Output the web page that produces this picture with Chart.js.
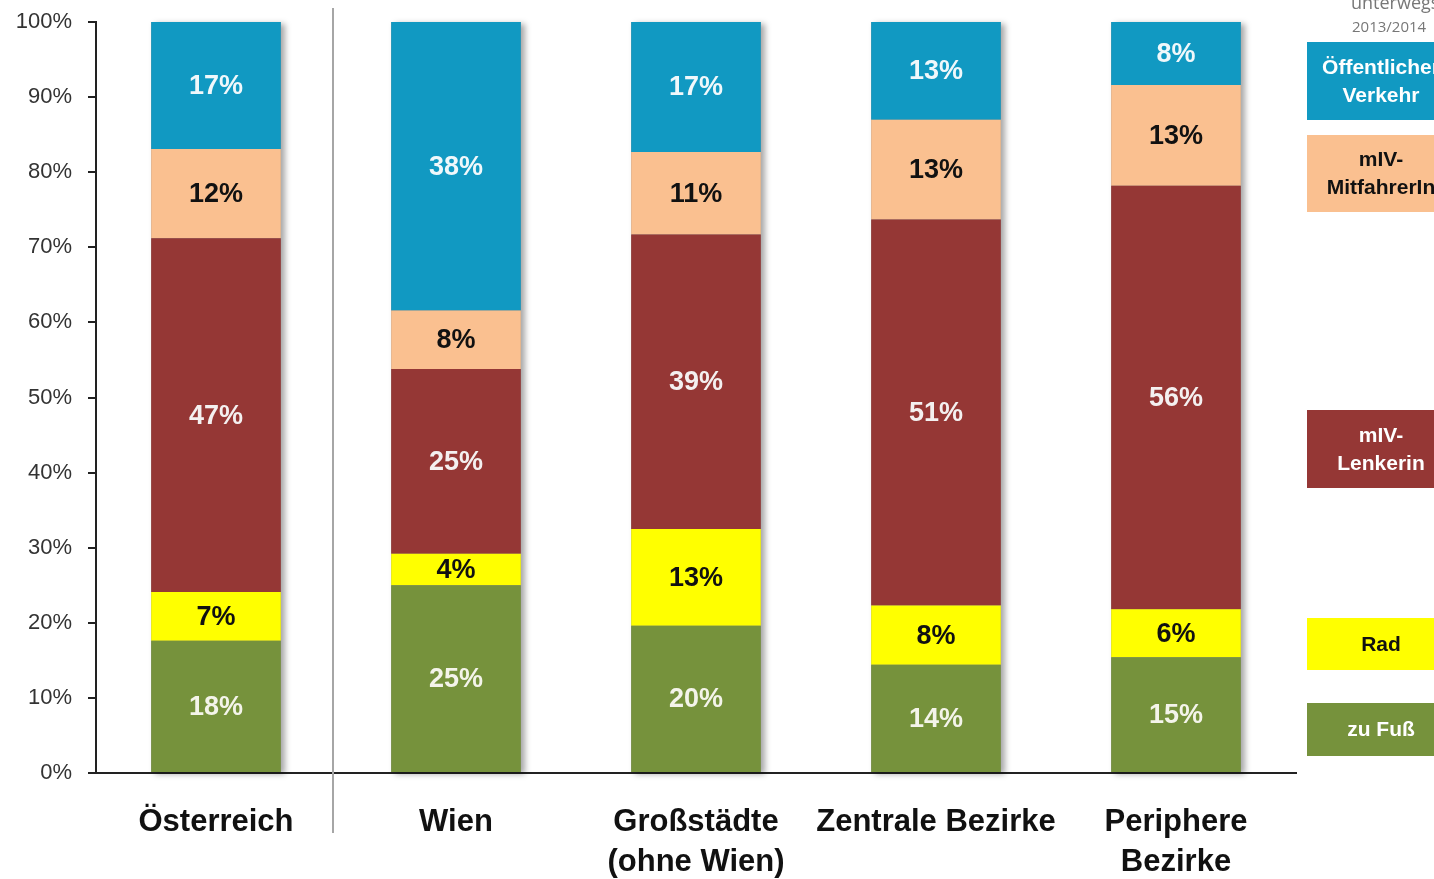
<!DOCTYPE html>
<html>
<head>
<meta charset="utf-8">
<script src="https://cdn.jsdelivr.net/npm/chart.js@4/dist/chart.umd.min.js"></script>
<style>
  body { margin: 0; background: #fff; }
  #wrap { width: 1434px; height: 879px; position: relative; }
</style>
</head>
<body>
<div id="wrap"><canvas id="chart"></canvas></div>
<script>
const categories = ['Österreich', 'Wien', ['Großstädte', '(ohne Wien)'], 'Zentrale Bezirke', ['Periphere', 'Bezirke']];
const zuFuss = [17.6, 25.0, 19.6, 14.4, 15.4];
const rad = [6.5, 4.2, 12.9, 7.9, 6.4];
const mivLenker = [47.1, 24.6, 39.2, 51.4, 56.4];
const mivMitfahrer = [11.9, 7.8, 11.0, 13.3, 13.4];
const oev = [16.9, 38.4, 17.3, 13.0, 8.4];
const yTicks = [0, 10, 20, 30, 40, 50, 60, 70, 80, 90, 100];

const narrow = '"Liberation Sans Narrow", "Arial Narrow", "Liberation Sans", sans-serif';

// legend boxes on the right, bottom-up like the stack
const legendItems = [
    { text: ['zu Fuß'], color: '#76923c', textColor: '#fff', top: 703, h: 53 },
    { text: ['Rad'], color: '#ffff00', textColor: '#111', top: 618, h: 52 },
    { text: ['mIV-', 'Lenkerin'], color: '#953735', textColor: '#fff', top: 410, h: 78 },
    { text: ['mIV-', 'MitfahrerIn'], color: '#fac090', textColor: '#111', top: 135, h: 77 },
    { text: ['Öffentlicher', 'Verkehr'], color: '#1199c2', textColor: '#fff', top: 42, h: 78 }
];

const decorations = {
    id: 'decorations',
    beforeDatasetsDraw(chart) {
        // soft shadow behind every full bar
        const ctx = chart.ctx;
        const first = chart.getDatasetMeta(0).data;
        const last = chart.getDatasetMeta(chart.data.datasets.length - 1).data;
        ctx.save();
        ctx.shadowColor = 'rgba(0,0,0,0.35)';
        ctx.shadowBlur = 6;
        ctx.shadowOffsetX = 4;
        ctx.shadowOffsetY = 2;
        ctx.fillStyle = '#888';
        first.forEach((bar, i) => {
            const top = last[i].y;
            ctx.fillRect(bar.x - bar.width / 2, top, bar.width, bar.base - top);
        });
        ctx.restore();
    },
    afterDatasetsDraw(chart) {
        const ctx = chart.ctx;
        ctx.save();
        ctx.font = 'bold 27px ' + narrow;
        ctx.textAlign = 'center';
        ctx.textBaseline = 'middle';
        chart.data.datasets.forEach((ds, d) => {
            chart.getDatasetMeta(d).data.forEach((bar, i) => {
                const c = bar.getCenterPoint();
                ctx.fillStyle = ds.labelColor;
                ctx.fillText(Math.round(ds.data[i]) + '%', c.x, c.y + 1);
            });
        });
        ctx.restore();
    },
    afterDraw(chart) {
        const ctx = chart.ctx;
        const x = chart.scales.x;
        const area = chart.chartArea;
        ctx.save();
        // separator between Österreich and the Wien group
        const sx = (x.getPixelForValue(0) + x.getPixelForValue(1)) / 2 - 3;
        ctx.strokeStyle = '#a6a6a6';
        ctx.lineWidth = 2;
        ctx.beginPath();
        ctx.moveTo(sx, 8);
        ctx.lineTo(sx, 833);
        ctx.stroke();

        // legend boxes
        const lx = area.right + 11;
        const lw = 146;
        legendItems.forEach(item => {
            ctx.fillStyle = item.color;
            ctx.fillRect(lx, item.top, lw, item.h);
            ctx.fillStyle = item.textColor;
            ctx.font = 'bold 21px ' + narrow;
            ctx.textAlign = 'center';
            ctx.textBaseline = 'middle';
            const cx = lx + 74;
            const cy = item.top + item.h / 2;
            if (item.text.length === 1) {
                ctx.fillText(item.text[0], cx, cy + 1);
            } else {
                ctx.fillText(item.text[0], cx, cy - 13);
                ctx.fillText(item.text[1], cx, cy + 15);
            }
        });

        // source note, clipped at the edge
        ctx.fillStyle = '#777';
        ctx.textAlign = 'left';
        ctx.textBaseline = 'middle';
        ctx.font = '18px "Open Sans", sans-serif';
        ctx.fillText('unterwegs', 1351, 4);
        ctx.font = '15px "Open Sans", sans-serif';
        ctx.fillText('2013/2014', 1352, 28);
        ctx.restore();
    }
};

new Chart(document.getElementById('chart'), {
    type: 'bar',
    data: {
        labels: categories,
        datasets: [
            { label: 'zu Fuß', data: zuFuss, backgroundColor: '#76923c', labelColor: '#f4f4ea' },
            { label: 'Rad', data: rad, backgroundColor: '#ffff00', labelColor: '#111' },
            { label: 'mIV-LenkerIn', data: mivLenker, backgroundColor: '#953735', labelColor: '#f4f0f0' },
            { label: 'mIV-MitfahrerIn', data: mivMitfahrer, backgroundColor: '#fac090', labelColor: '#111' },
            { label: 'Öffentlicher Verkehr', data: oev, backgroundColor: '#1199c2', labelColor: '#f0f8fb' }
        ]
    },
    options: {
        responsive: true,
        maintainAspectRatio: false,
        animation: false,
        layout: { padding: { top: 22, right: 138, left: 0, bottom: 0 } },
        datasets: { bar: { barPercentage: 0.54, categoryPercentage: 1, borderWidth: 0 } },
        plugins: { legend: { display: false }, tooltip: { enabled: false } },
        scales: {
            x: {
                stacked: true,
                grid: { display: false, drawTicks: false },
                border: { display: true, color: '#222', width: 2 },
                ticks: {
                    color: '#111',
                    padding: 29,
                    font: { family: narrow, size: 31, weight: 'bold', lineHeight: 1.3 },
                    maxRotation: 0,
                    autoSkip: false
                },
                afterFit(scale) { scale.height = 106; }
            },
            y: {
                stacked: true,
                min: 0,
                max: 100,
                afterBuildTicks(scale) { scale.ticks = yTicks.map(v => ({ value: v })); },
                grid: { drawOnChartArea: false, drawTicks: true, tickLength: 8, color: '#222', lineWidth: 2 },
                border: { display: true, color: '#222', width: 2 },
                ticks: {
                    color: '#333',
                    padding: 16,
                    font: { family: narrow, size: 22 },
                    callback: v => v + '%'
                },
                afterFit(scale) {
                    scale.width = 96;
                    scale.paddingTop = 0;
                    scale.paddingBottom = 0;
                }
            }
        }
    },
    plugins: [decorations]
});
</script>
</body>
</html>
